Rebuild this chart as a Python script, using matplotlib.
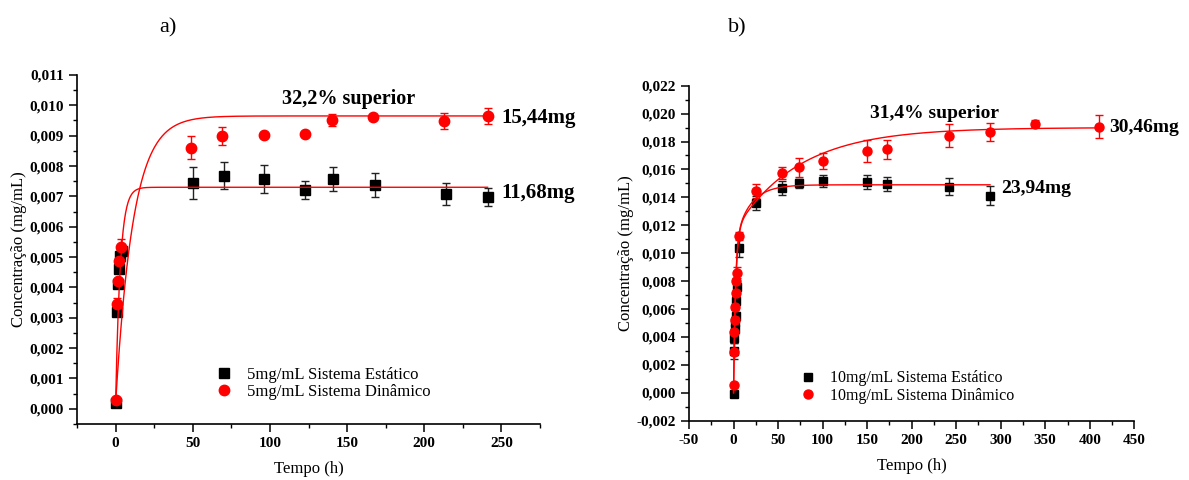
import numpy as np
import matplotlib
matplotlib.use("Agg")
import matplotlib.pyplot as plt
from matplotlib.ticker import MultipleLocator, FuncFormatter

plt.rcParams['font.family'] = ['Liberation Serif', 'DejaVu Serif']
plt.rcParams['axes.unicode_minus'] = False

# ---- a) 5 mg/mL ----
t_est_a = [0.5, 1, 1.5, 2, 3, 4, 50, 70, 96, 123, 141, 168, 214, 241]
y_est_a = [0.0002, 0.0032, 0.0041, 0.0046, 0.00505, 0.0052, 0.00745, 0.00768,
           0.00758, 0.00722, 0.00758, 0.00738, 0.00708, 0.00698]
e_est_a = [0.00005, 0.0001, 0.0001, 0.0001, 0.0001, 0.0001, 0.00053, 0.00045,
           0.00047, 0.0003, 0.0004, 0.0004, 0.00035, 0.0003]

t_din_a = [0.3, 1, 1.5, 2.5, 3.2, 49, 69, 96, 123, 140, 167, 213, 241]
y_din_a = [0.0003, 0.00345, 0.00422, 0.00487, 0.00534, 0.0086, 0.00899,
           0.00902, 0.00906, 0.00952, 0.00961, 0.00948, 0.00964]
e_din_a = [0.00005, 0.0002, 0.0001, 0.0001, 0.00026, 0.00038, 0.0003,
           0.00005, 0.00005, 0.0002, 0.0001, 0.00026, 0.00027]

# ajuste exponencial: y0 + A*(1 - exp(-k t))
fit_est_a = dict(y0=0.0002, A=0.0071, k=0.33, tmax=241)
fit_din_a = dict(y0=0.0002, A=0.00945, k=0.088, tmax=241)

# ---- b) 10 mg/mL ----
t_est_b = [0, 0.5, 1, 1.5, 2, 2.5, 3, 3.5, 6, 25, 54, 74, 100, 150, 172, 242, 288]
y_est_b = [-0.0001, 0.0030, 0.0039, 0.0046, 0.0051, 0.0055, 0.0066, 0.0076,
           0.0104, 0.01357, 0.01464, 0.0150, 0.01517, 0.0151, 0.01495,
           0.01476, 0.01412]
e_est_b = [0.0001, 0.0006, 0.0003, 0.0003, 0.0003, 0.0003, 0.0003, 0.0003,
           0.0007, 0.0005, 0.0005, 0.0003, 0.0004, 0.0005, 0.0005, 0.0006, 0.0007]

t_din_b = [0, 0.5, 1, 1.5, 2, 2.5, 3, 3.5, 6, 25, 54, 74, 100, 150, 172, 242,
           288, 338, 410]
y_din_b = [0.00055, 0.00294, 0.00437, 0.00521, 0.00612, 0.00712, 0.00803,
           0.0086, 0.01125, 0.01445, 0.01572, 0.01615, 0.01663, 0.01732,
           0.01744, 0.01842, 0.01871, 0.01926, 0.01907]
e_din_b = [0.0001, 0.0002, 0.0002, 0.0002, 0.0002, 0.0002, 0.0002, 0.0004,
           0.0003, 0.00048, 0.00043, 0.0007, 0.00057, 0.0008, 0.00066,
           0.00082, 0.00064, 0.00025, 0.0008]

# ajuste biexponencial: A1*(1 - exp(-k1 t)) + A2*(1 - exp(-k2 t))
fit_est_b = dict(A1=0.0105, k1=0.5, A2=0.0044, k2=0.06, tmax=288)
fit_din_b = dict(A1=0.0115, k1=0.42, A2=0.0075, k2=0.014, tmax=410)


def mono(p):
    t = np.linspace(0, p['tmax'], 600)
    return t, p['y0'] + p['A'] * (1 - np.exp(-p['k'] * t))


def bi(p):
    t = np.linspace(0, p['tmax'], 600)
    return t, (p['A1'] * (1 - np.exp(-p['k1'] * t))
               + p['A2'] * (1 - np.exp(-p['k2'] * t)))


virgula = FuncFormatter(lambda v, pos: f'{v:.3f}'.replace('.', ','))


def estilo(ax, xlim, ylim, xticks, ymaj, ymin):
    ax.set_xlim(*xlim)
    ax.set_ylim(*ylim)
    ax.spines['top'].set_visible(False)
    ax.spines['right'].set_visible(False)
    for s in ('left', 'bottom'):
        ax.spines[s].set_linewidth(1.2)
    ax.set_xticks(xticks)
    ax.xaxis.set_minor_locator(MultipleLocator(25))
    ax.yaxis.set_major_locator(MultipleLocator(ymaj))
    ax.yaxis.set_minor_locator(MultipleLocator(ymin))
    ax.yaxis.set_major_formatter(virgula)
    ax.tick_params(which='major', direction='out', length=6, width=1.1,
                   labelsize=11)
    ax.tick_params(which='minor', direction='out', length=3, width=1.0)
    for lab in ax.get_xticklabels() + ax.get_yticklabels():
        lab.set_fontweight('bold')
    ax.set_xlabel('Tempo (h)', fontsize=12, labelpad=8)
    ax.set_ylabel('Concentração (mg/mL)', fontsize=12, labelpad=2)


def pontos(ax, t, y, e, marker, cor, ecor, ms, label):
    ax.errorbar(t, y, yerr=e, fmt='none', ecolor=ecor, elinewidth=1.0,
                capsize=3, capthick=1.0, zorder=2)
    ax.plot(t, y, marker, color=cor, ms=ms, ls='none', label=label, zorder=3)


fig = plt.figure(figsize=(11.89, 4.8), dpi=100)

# a)
axa = fig.add_axes([0.0648, 0.1167, 0.3894, 0.7271])
pontos(axa, t_est_a, y_est_a, e_est_a, 's', 'black', '#222222', 6.5,
       '5mg/mL Sistema Estático')
pontos(axa, t_din_a, y_din_a, e_din_a, 'o', 'red', 'red', 7.5,
       '5mg/mL Sistema Dinâmico')
axa.plot(*mono(fit_est_a), color='red', lw=1.0, zorder=4)
axa.plot(*mono(fit_din_a), color='red', lw=1.0, zorder=4)
estilo(axa, (-25, 275), (-0.0005, 0.011), [0, 50, 100, 150, 200, 250],
       0.001, 0.0005)
axa.text(150.7, 0.0102, '32,2% superior', fontsize=14.5, fontweight='bold',
         ha='center', va='center')
axa.text(250, 0.00957, '15,44mg', fontsize=15, fontweight='bold', va='center')
axa.text(250, 0.00711, '11,68mg', fontsize=15, fontweight='bold', va='center')
axa.legend(loc='center left', bbox_to_anchor=(0.285, 0.116), frameon=False,
           fontsize=12, handlelength=1.0, handletextpad=0.9,
           labelspacing=0.1, borderaxespad=0)

# b)
axb = fig.add_axes([0.5795, 0.1235, 0.3745, 0.698])
pontos(axb, t_est_b, y_est_b, e_est_b, 's', 'black', '#222222', 5.5,
       '10mg/mL Sistema Estático')
pontos(axb, t_din_b, y_din_b, e_din_b, 'o', 'red', 'red', 6.5,
       '10mg/mL Sistema Dinâmico')
axb.plot(*bi(fit_est_b), color='red', lw=1.0, zorder=4)
axb.plot(*bi(fit_din_b), color='red', lw=1.0, zorder=4)
estilo(axb, (-50, 450), (-0.002, 0.022), list(range(-50, 451, 50)),
       0.002, 0.001)
axb.text(225.9, 0.02002, '31,4% superior', fontsize=14, fontweight='bold',
         ha='center', va='center')
axb.text(422, 0.01902, '30,46mg', fontsize=14, fontweight='bold', va='center')
axb.text(300.4, 0.0146, '23,94mg', fontsize=14, fontweight='bold', va='center')
axb.legend(loc='center left', bbox_to_anchor=(0.235, 0.1), frameon=False,
           fontsize=11.5, handlelength=1.0, handletextpad=0.9,
           labelspacing=0.1, borderaxespad=0)

fig.text(168 / 1189, 1 - 28 / 480, 'a)', fontsize=16, ha='center', va='center')
fig.text(737 / 1189, 1 - 28 / 480, 'b)', fontsize=16, ha='center', va='center')

fig.savefig('out.png', dpi=100)
